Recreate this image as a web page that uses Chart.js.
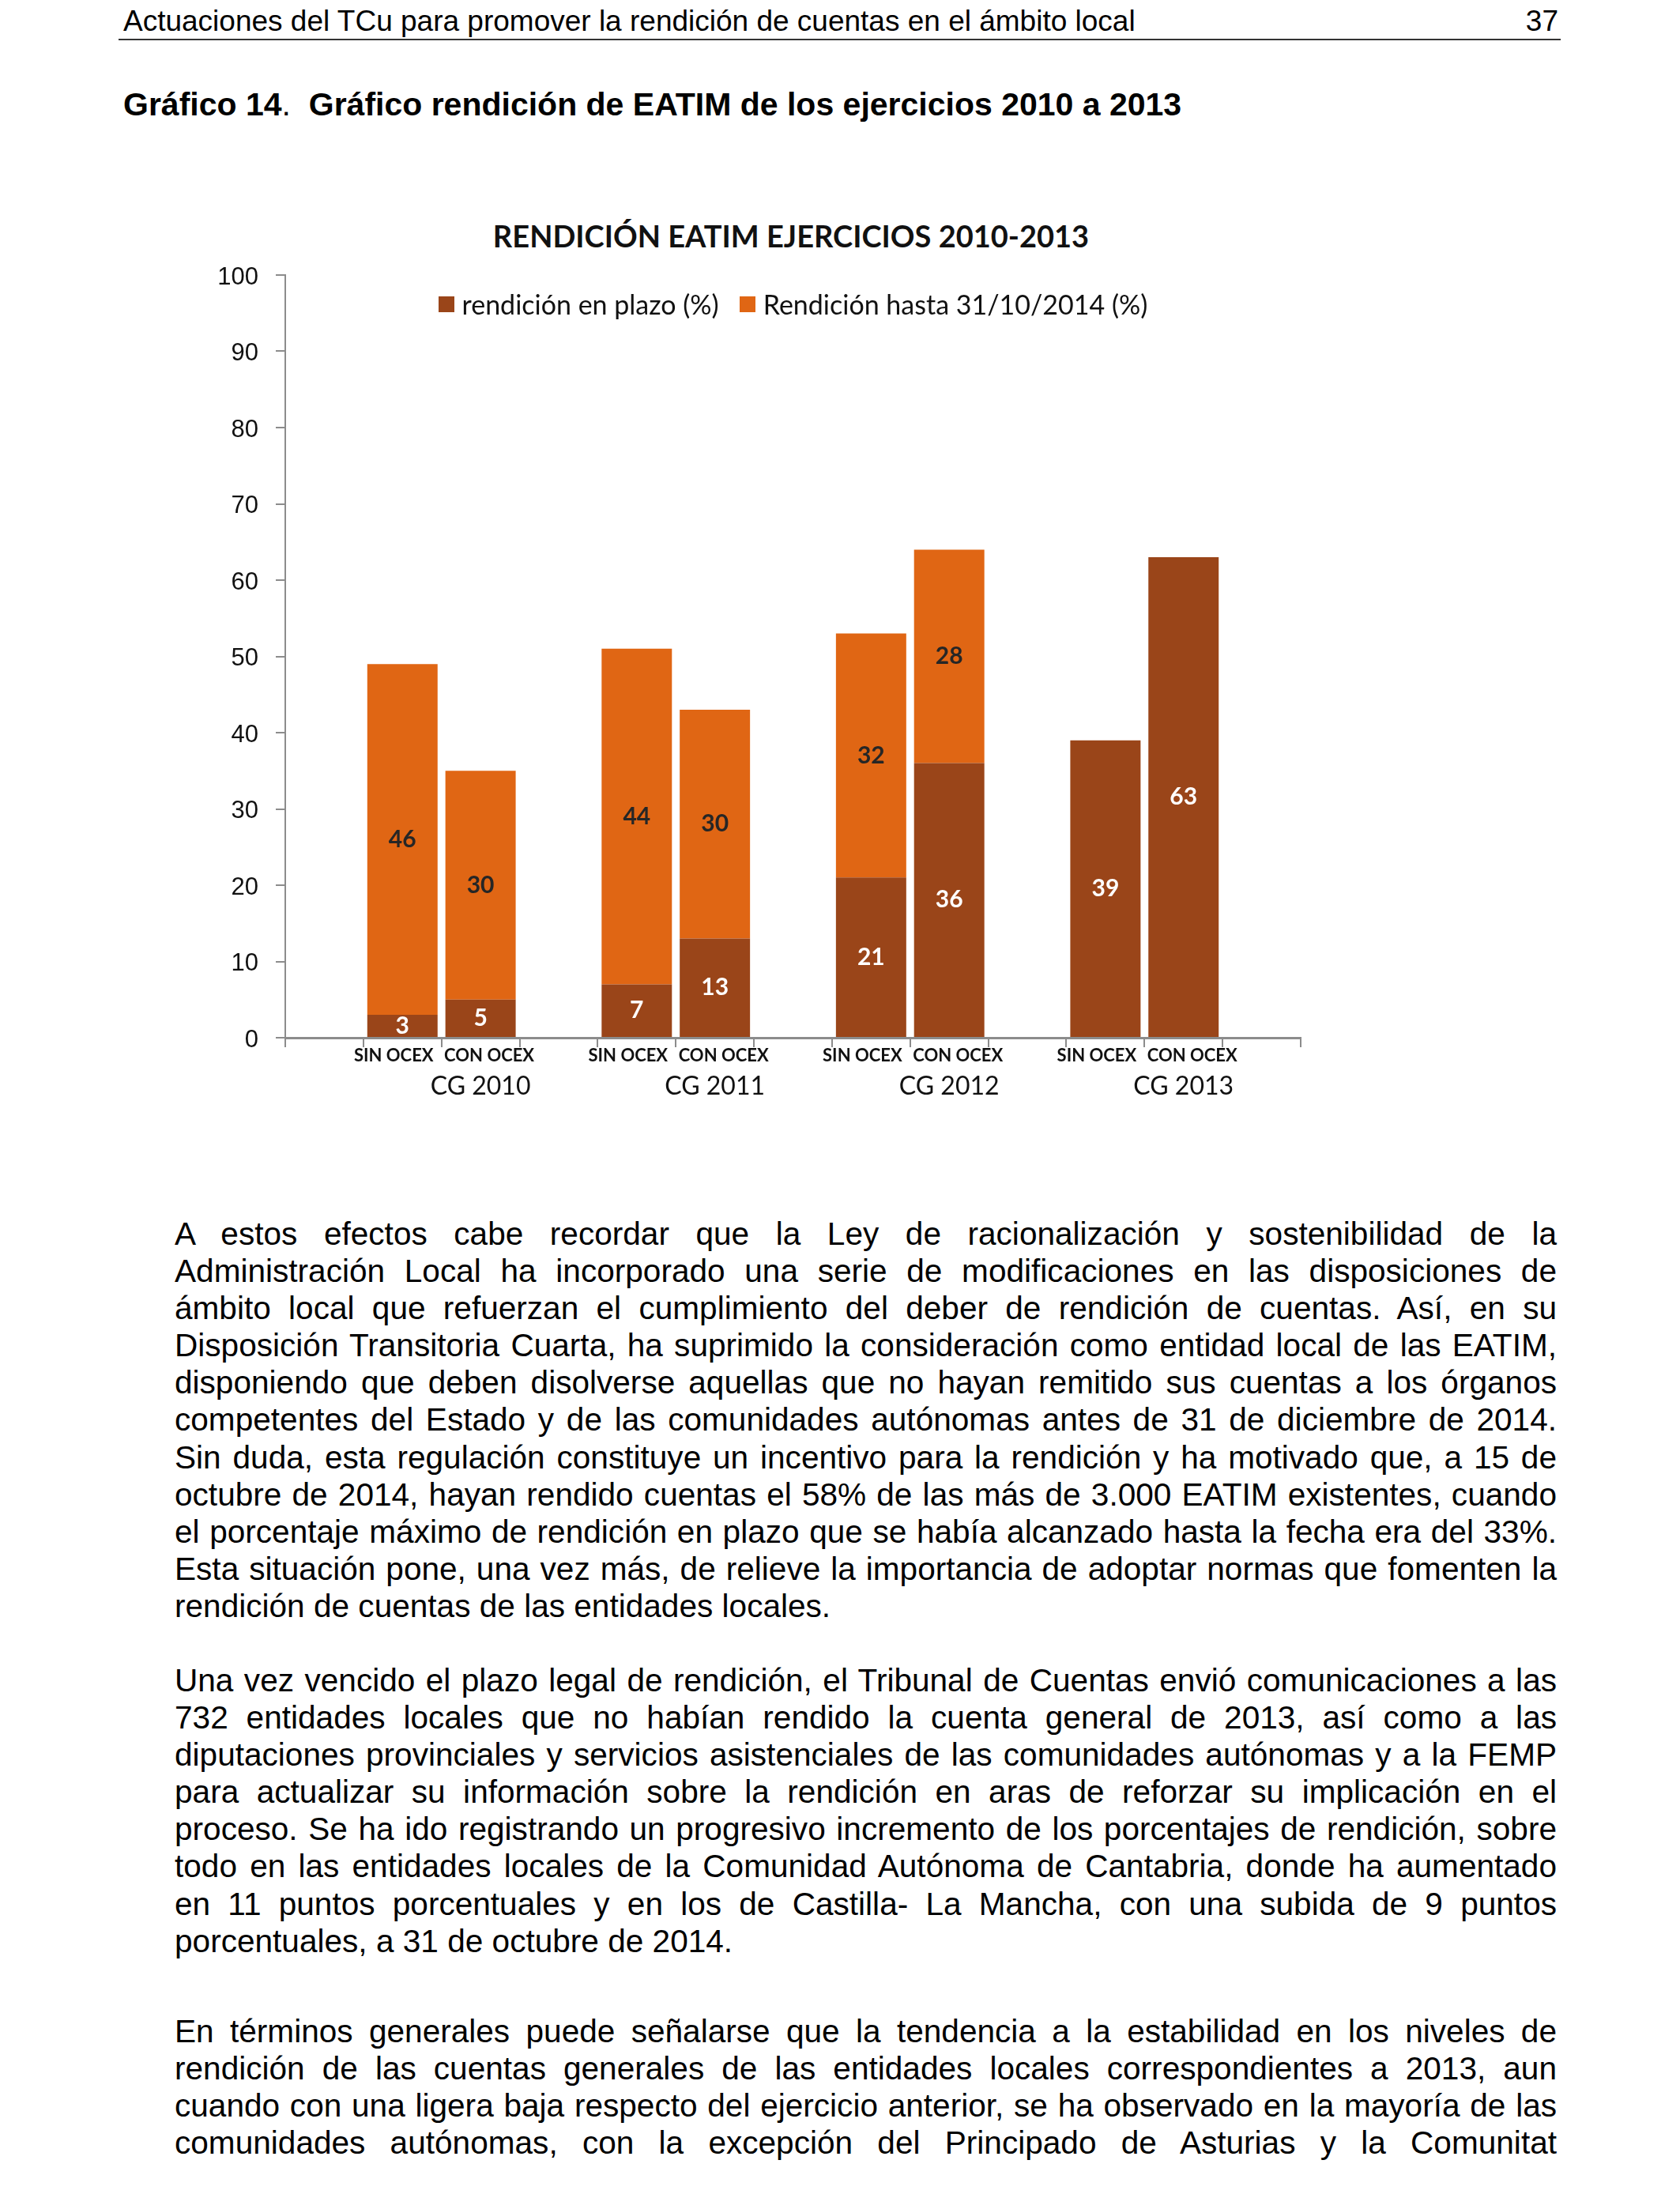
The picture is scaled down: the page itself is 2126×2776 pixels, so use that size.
<!DOCTYPE html>
<html lang="es">
<head>
<meta charset="utf-8">
<title>Gráfico 14</title>
<script src="https://cdn.jsdelivr.net/npm/chart.js@4.4.1/dist/chart.umd.min.js"></script>
<style>
  html, body { margin: 0; padding: 0; background: #fff; }
  body { width: 2126px; height: 2776px; position: relative; overflow: hidden;
         font-family: "Liberation Sans", Arial, sans-serif; color: #000; }
  .hdr { position: absolute; left: 156px; top: 5px; font-size: 37px; line-height: 44px; }
  .pag { position: absolute; right: 154px; top: 5px; font-size: 37px; line-height: 44px; }
  .rule { position: absolute; left: 150px; width: 1825px; top: 49px; height: 2px; background: #333; }
  .fig { position: absolute; left: 156px; top: 108px; font-size: 41px; line-height: 48px; font-weight: bold; }
  .fig span { font-weight: normal; }
  .ctitle { position: absolute; left: 0; width: 2002px; top: 275px; text-align: center;
            font-family: Lato, sans-serif; font-weight: bold; font-size: 38px; line-height: 46px; color: #111; }
  #wrap { position: absolute; left: 200px; top: 300px; width: 1600px; height: 1130px; }
  #legend { position: absolute; display: flex; gap: 26px; align-items: center;
            font-family: Lato, sans-serif; font-size: 34px; line-height: 40px; color: #111; white-space: nowrap; }
  #legend .item { display: flex; align-items: center; }
  #legend .box { width: 20px; height: 20px; margin-right: 10px; }
  .par { position: absolute; left: 221px; width: 1749px; font-size: 40.6px; line-height: 47.1px; }
  .par div { text-align: justify; text-align-last: justify; }
  .par div.last { text-align-last: left; }
</style>
</head>
<body>
<div class="hdr">Actuaciones del TCu para promover la rendición de cuentas en el ámbito local</div>
<div class="pag">37</div>
<div class="rule"></div>
<div class="fig">Gráfico 14<span>.</span>&nbsp;&nbsp;Gráfico rendición de EATIM de los ejercicios 2010 a 2013</div>

<div class="ctitle">RENDICIÓN EATIM EJERCICIOS 2010-2013</div>
<div id="wrap"><canvas id="chart"></canvas></div>
<div id="legend"></div>

<div class="par" style="top:1538px">
<div>A estos efectos cabe recordar que la Ley de racionalización y sostenibilidad de la</div>
<div>Administración Local ha incorporado una serie de modificaciones en las disposiciones de</div>
<div>ámbito local que refuerzan el cumplimiento del deber de rendición de cuentas. Así, en su</div>
<div>Disposición Transitoria Cuarta, ha suprimido la consideración como entidad local de las EATIM,</div>
<div>disponiendo que deben disolverse aquellas que no hayan remitido sus cuentas a los órganos</div>
<div>competentes del Estado y de las comunidades autónomas antes de 31 de diciembre de 2014.</div>
<div>Sin duda, esta regulación constituye un incentivo para la rendición y ha motivado que, a 15 de</div>
<div>octubre de 2014, hayan rendido cuentas el 58% de las más de 3.000 EATIM existentes, cuando</div>
<div>el porcentaje máximo de rendición en plazo que se había alcanzado hasta la fecha era del 33%.</div>
<div>Esta situación pone, una vez más, de relieve la importancia de adoptar normas que fomenten la</div>
<div class="last">rendición de cuentas de las entidades locales.</div>
</div>

<div class="par" style="top:2103px">
<div>Una vez vencido el plazo legal de rendición, el Tribunal de Cuentas envió comunicaciones a las</div>
<div>732 entidades locales que no habían rendido la cuenta general de 2013, así como a las</div>
<div>diputaciones provinciales y servicios asistenciales de las comunidades autónomas y a la FEMP</div>
<div>para actualizar su información sobre la rendición en aras de reforzar su implicación en el</div>
<div>proceso. Se ha ido registrando un progresivo incremento de los porcentajes de rendición, sobre</div>
<div>todo en las entidades locales de la Comunidad Autónoma de Cantabria, donde ha aumentado</div>
<div>en 11 puntos porcentuales y en los de Castilla- La Mancha, con una subida de 9 puntos</div>
<div class="last">porcentuales, a 31 de octubre de 2014.</div>
</div>

<div class="par" style="top:2547px">
<div>En términos generales puede señalarse que la tendencia a la estabilidad en los niveles de</div>
<div>rendición de las cuentas generales de las entidades locales correspondientes a 2013, aun</div>
<div>cuando con una ligera baja respecto del ejercicio anterior, se ha observado en la mayoría de las</div>
<div>comunidades autónomas, con la excepción del Principado de Asturias y la Comunitat</div>
</div>

<script>
// categorías del eje (huecos vacíos entre grupos, como en el original)
const categories = ["", "SIN OCEX", "CON OCEX", "", "SIN OCEX", "CON OCEX", "", "SIN OCEX", "CON OCEX", "", "SIN OCEX", "CON OCEX", ""];
const groupLabels = ["", "", "CG 2010", "", "", "CG 2011", "", "", "CG 2012", "", "", "CG 2013", ""];

const enPlazo = [null, 3, 5, null, 7, 13, null, 21, 36, null, 39, 63, null];
const hasta2014 = [null, 46, 30, null, 44, 30, null, 32, 28, null, null, null, null];

const yTicks = [0, 10, 20, 30, 40, 50, 60, 70, 80, 90, 100];

const dark = "#9A4519";
const orange = "#E06614";
const axisGrey = "#8c8c8c";

// etiquetas de valor centradas en cada tramo de barra
const barLabels = {
  id: "barLabels",
  afterDatasetsDraw(chart) {
    const ctx = chart.ctx;
    ctx.save();
    ctx.font = "bold 30px Lato, sans-serif";
    ctx.textAlign = "center";
    ctx.textBaseline = "middle";
    chart.data.datasets.forEach((ds, i) => {
      const meta = chart.getDatasetMeta(i);
      meta.data.forEach((bar, j) => {
        const v = ds.data[j];
        if (v == null) return;
        ctx.fillStyle = i === 0 ? "#ffffff" : "#262626";
        ctx.fillText(String(v), bar.x, (bar.y + bar.base) / 2);
      });
    });
    ctx.restore();
  },
};

// leyenda en HTML, dentro del área de trazado y centrada sobre ella
const htmlLegend = {
  id: "htmlLegend",
  afterUpdate(chart) {
    const box = document.getElementById("legend");
    box.innerHTML = "";
    const items = chart.options.plugins.legend.labels.generateLabels(chart);
    items.forEach((it) => {
      const el = document.createElement("div");
      el.className = "item";
      const sw = document.createElement("span");
      sw.className = "box";
      sw.style.background = it.fillStyle;
      el.appendChild(sw);
      el.appendChild(document.createTextNode(it.text));
      box.appendChild(el);
    });
    const wrap = document.getElementById("wrap");
    const area = chart.chartArea;
    const cx = wrap.offsetLeft + (area.left + area.right) / 2;
    box.style.left = cx - box.offsetWidth / 2 + "px";
    box.style.top = wrap.offsetTop + area.top + 17 + "px";
  },
};

new Chart(document.getElementById("chart"), {
  type: "bar",
  data: {
    labels: categories,
    datasets: [
      {
        label: "rendición en plazo (%)",
        data: enPlazo,
        backgroundColor: dark,
        borderWidth: 0,
      },
      {
        label: "Rendición hasta 31/10/2014 (%)",
        data: hasta2014,
        backgroundColor: orange,
        borderWidth: 0,
      },
    ],
  },
  options: {
    responsive: true,
    maintainAspectRatio: false,
    animation: false,
    barPercentage: 0.9,
    categoryPercentage: 1,
    layout: { padding: { top: 48, right: 154, left: 0, bottom: 0 } },
    plugins: {
      tooltip: { enabled: false },
      legend: { display: false },
    },
    scales: {
      x: {
        stacked: true,
        position: "bottom",
        afterFit: (s) => { s.height = 40; },
        grid: { drawOnChartArea: false, offset: true, tickLength: 12, color: axisGrey, lineWidth: 2 },
        border: { color: axisGrey, width: 3 },
        ticks: {
          autoSkip: false,
          maxRotation: 0,
          padding: -2,
          color: "#111",
          font: { family: "Lato", size: 22, weight: "bold" },
          // en el original SIN queda algo a la izquierda y CON a la derecha
          callback(value) {
            const t = this.getLabelForValue(value);
            if (t === "SIN OCEX") return t + "\u2002\u2002";
            if (t === "CON OCEX") return "\u2002\u2002" + t;
            return t;
          },
        },
      },
      x2: {
        type: "category",
        labels: groupLabels,
        position: "bottom",
        offset: true,
        afterFit: (s) => { s.height = 77; },
        grid: { display: false, drawTicks: false },
        border: { display: false },
        ticks: {
          autoSkip: false,
          maxRotation: 0,
          padding: 2,
          color: "#111",
          font: { family: "Lato", size: 32 },
        },
      },
      y: {
        stacked: true,
        min: 0,
        max: 100,
        afterFit: (s) => { s.width = 161; },
        afterBuildTicks: (s) => { s.ticks = yTicks.map((v) => ({ value: v })); },
        grid: { drawOnChartArea: false, tickLength: 12, color: axisGrey, lineWidth: 2 },
        border: { color: axisGrey, width: 2 },
        ticks: {
          padding: 22,
          labelOffset: 3,
          color: "#111",
          font: { family: "Liberation Sans", size: 31 },
        },
      },
    },
  },
  plugins: [barLabels, htmlLegend],
});
</script>
</body>
</html>
